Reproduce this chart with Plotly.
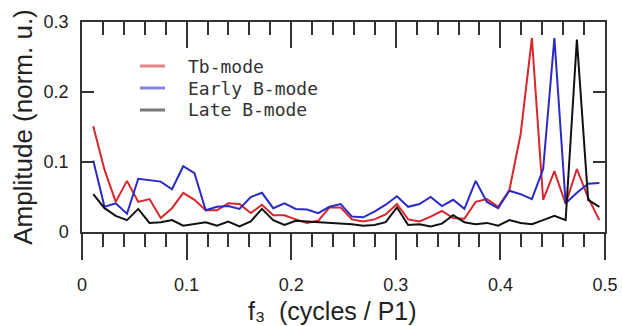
import plotly.graph_objects as go

# frequency axis: k/93 cycles per P1, k = 1..46
k_index = list(range(1, 47))
freq = [k / 93 for k in k_index]

tb_mode = [0.151, 0.089, 0.043, 0.073, 0.043, 0.047, 0.020, 0.034, 0.056, 0.046,
           0.031, 0.031, 0.041, 0.040, 0.027, 0.039, 0.024, 0.024, 0.018, 0.013,
           0.016, 0.035, 0.035, 0.018, 0.015, 0.018, 0.025, 0.040, 0.018, 0.015,
           0.022, 0.030, 0.020, 0.019, 0.043, 0.047, 0.036, 0.060, 0.140, 0.277,
           0.046, 0.087, 0.040, 0.090, 0.049, 0.017]

early_b = [0.102, 0.036, 0.041, 0.026, 0.076, 0.074, 0.072, 0.061, 0.094, 0.084,
           0.031, 0.036, 0.037, 0.033, 0.050, 0.056, 0.034, 0.041, 0.033, 0.032,
           0.027, 0.036, 0.040, 0.022, 0.021, 0.029, 0.039, 0.051, 0.036, 0.040,
           0.050, 0.037, 0.046, 0.033, 0.073, 0.043, 0.034, 0.059, 0.054, 0.047,
           0.090, 0.277, 0.041, 0.056, 0.069, 0.070]

late_b = [0.054, 0.034, 0.023, 0.017, 0.033, 0.013, 0.014, 0.017, 0.009, 0.012,
          0.014, 0.009, 0.015, 0.008, 0.015, 0.033, 0.017, 0.010, 0.016, 0.015,
          0.014, 0.014, 0.013, 0.011, 0.009, 0.010, 0.014, 0.035, 0.010, 0.011,
          0.008, 0.012, 0.024, 0.014, 0.011, 0.013, 0.009, 0.017, 0.013, 0.011,
          0.017, 0.023, 0.017, 0.275, 0.046, 0.036]

series_names = ["Tb-mode", "Early B-mode", "Late B-mode"]
line_colors = ["#d9262a", "#2a2ac4", "#111111"]
legend_colors = ["#e58585", "#8585dd", "#777777"]

x_ticks = [0, 0.1, 0.2, 0.3, 0.4, 0.5]
x_labels = ["0", "0.1", "0.2", "0.3", "0.4", "0.5"]
y_ticks = [0, 0.1, 0.2, 0.3]
y_labels = ["0", "0.1", "0.2", "0.3"]

axis_col = "#333333"
W, H = 622, 326
ML, MR, MT, MB = 82, 17, 22, 94
PW, PH = W - ML - MR, H - MT - MB

fig = go.Figure()
for name, vals, col in zip(series_names, [tb_mode, early_b, late_b], line_colors):
    fig.add_trace(go.Scatter(x=freq, y=vals, mode="lines", name=name,
                             line=dict(color=col, width=2), showlegend=False))
# empty trace to activate the top axis
fig.add_trace(go.Scatter(x=[None], y=[None], xaxis="x2", showlegend=False,
                         hoverinfo="skip"))

tick_font = dict(family="Liberation Sans, Arial, sans-serif", size=18, color="#222222")
title_font = dict(family="Liberation Sans, Arial, sans-serif", size=26, color="#222222")
xtitle_font = dict(family="Liberation Sans, Arial, sans-serif", size=25, color="#222222")

# manual legend (swatch + label), placed in paper coordinates
leg_left_px, leg_right_px, leg_text_px = 140, 165, 186
leg_rows_px = [66, 88, 110]
shapes = []
annotations = []
for name, col, py in zip(series_names, legend_colors, leg_rows_px):
    yp = (H - MB - py) / PH
    shapes.append(dict(type="line", xref="paper", yref="paper",
                       x0=(leg_left_px - ML) / PW, x1=(leg_right_px - ML) / PW,
                       y0=yp, y1=yp, line=dict(color=col, width=3)))
    annotations.append(dict(xref="paper", yref="paper", x=(leg_text_px - ML) / PW, y=yp,
                            xanchor="left", yanchor="middle", showarrow=False, text=name,
                            font=dict(family="DejaVu Sans Mono, monospace", size=18,
                                      color="#333333")))

# x-axis title as a centred annotation
annotations.append(dict(xref="paper", yref="paper", x=(332 - ML) / PW,
                        y=(H - MB - 311) / PH, xanchor="center", yanchor="middle",
                        showarrow=False,
                        text="f\u2083\u00a0\u00a0(cycles / P1)",
                        font=xtitle_font))

# left/right frame lines continue below the zero line
ext = -26 / PH
shapes += [
    dict(type="line", xref="paper", yref="paper", x0=0, x1=0, y0=ext, y1=0,
         line=dict(color=axis_col, width=1.5)),
    dict(type="line", xref="paper", yref="paper", x0=1, x1=1, y0=ext, y1=0,
         line=dict(color=axis_col, width=1.5)),
]

fig.update_layout(
    width=W, height=H,
    margin=dict(l=ML, r=MR, t=MT, b=MB, autoexpand=False),
    paper_bgcolor="white", plot_bgcolor="white",
    showlegend=False,
    xaxis=dict(range=[0, 0.5], tickvals=x_ticks, ticktext=x_labels,
               ticks="outside", ticklen=26, tickwidth=1.5, tickcolor=axis_col,
               minor=dict(dtick=0.02, tick0=0, ticks="outside", ticklen=13,
                          tickwidth=1.5, tickcolor=axis_col),
               showline=True, linecolor=axis_col, linewidth=1.5,
               showgrid=False, zeroline=False, tickfont=tick_font,
               ticklabelstandoff=10, automargin=False),
    xaxis2=dict(range=[0, 0.5], overlaying="x", side="top", anchor="y",
                tickvals=x_ticks, ticks="inside", ticklen=26, tickwidth=1.5, tickcolor=axis_col,
                minor=dict(dtick=0.02, tick0=0, ticks="inside", ticklen=13,
                           tickwidth=1.5, tickcolor=axis_col),
                showline=True, linecolor=axis_col, linewidth=1.5,
                showticklabels=False, showgrid=False, zeroline=False, automargin=False),
    yaxis=dict(range=[0, 0.3], tickvals=y_ticks, ticktext=y_labels,
               ticks="inside", ticklen=12, tickwidth=1.5, tickcolor=axis_col,
               showline=True, linecolor=axis_col, linewidth=1.5, mirror="ticks",
               showgrid=False, zeroline=False, tickfont=tick_font,
               ticklabelstandoff=8, automargin=False,
               title=dict(text="Amplitude (norm. u.)", font=title_font, standoff=4)),
    shapes=shapes,
    annotations=annotations,
)

fig.write_html("out.html")
